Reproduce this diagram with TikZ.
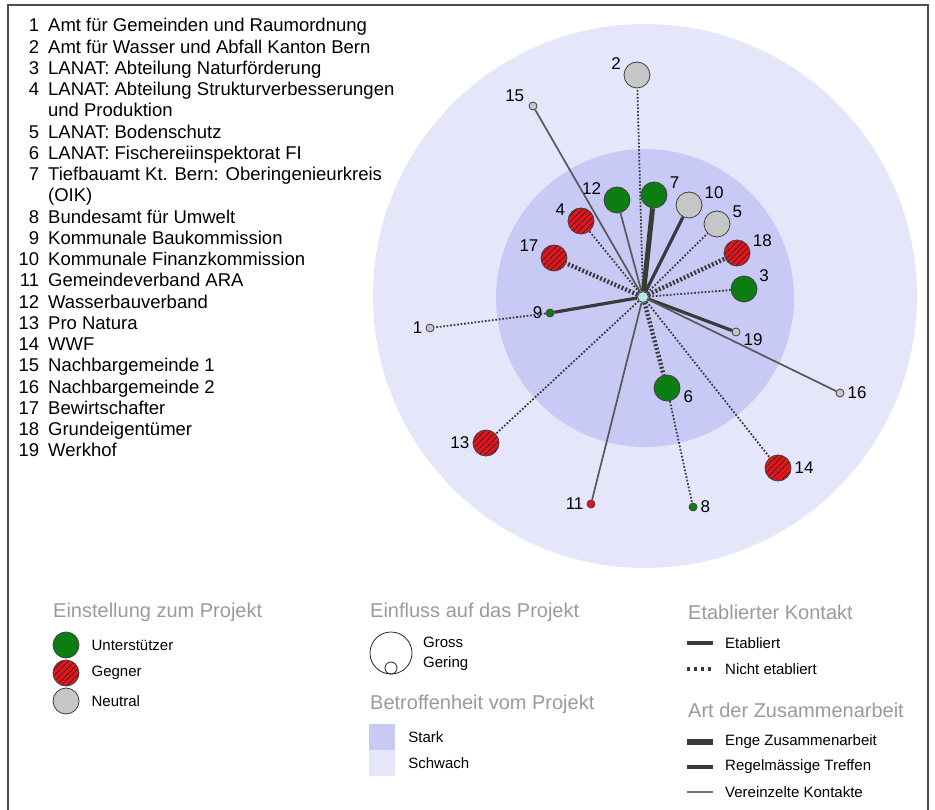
\documentclass[tikz,border=0pt]{standalone}
\usepackage{fontspec}
\setmainfont{Liberation Sans}
\usetikzlibrary{positioning, patterns.meta}

\definecolor{supgreen}{HTML}{0B7D12}
\definecolor{oppred}{HTML}{E8121A}
\definecolor{neutgrey}{HTML}{C6C6C6}
\definecolor{hubcyan}{HTML}{B4E8EC}
\definecolor{starkblue}{HTML}{C9C9F6}
\definecolor{schwachblue}{HTML}{E6E6FB}
\definecolor{headgrey}{HTML}{9A9A9A}
\definecolor{edgegrey}{HTML}{3A3A3A}

\begin{document}
\begin{tikzpicture}[
    x=1pt, y=-1pt,
    actor/.style={circle, draw=black!75, line width=0.8pt, inner sep=0pt},
    bigactor/.style={actor, minimum size=26pt},
    smallactor/.style={actor, minimum size=8pt},
    supporter/.style={fill=supgreen},
    opponent/.style={preaction={fill=oppred}, pattern={Lines[angle=45, distance=4pt, line width=1pt]}, pattern color=black!85},
    neutral/.style={fill=neutgrey},
    numlab/.style={font=\fontsize{17}{17}\selectfont, inner sep=1pt, label distance=2pt},
    headtext/.style={font=\fontsize{20}{20}\selectfont, text=headgrey, inner sep=0pt, anchor=west},
    legtext/.style={font=\fontsize{15}{15}\selectfont, inner sep=0pt, anchor=west},
    link_few/.style={draw=edgegrey!85, line width=1.7pt},
    link_reg/.style={draw=edgegrey, line width=3.2pt},
    link_tight/.style={draw=edgegrey, line width=5pt},
    link_open/.style={draw=edgegrey, line width=1.8pt, dash pattern=on 1.7pt off 1.8pt},
    link_open_tight/.style={draw=edgegrey, line width=4.4pt, dash pattern=on 1.9pt off 2pt}
]
    \useasboundingbox (0,0) rectangle (935,810);
    \draw[black!70, line width=1.4pt] (8,830) -- (8,5) -- (928,5) -- (928,830);

    % list of actors
    \node[anchor=north west, inner sep=0pt, align=left] (actorlist) at (18.4,16.7) {%
      \fontsize{18.5}{21.25}\selectfont
      \begin{tabular}{@{}r@{\hspace{9pt}}l@{}}
        1 & Amt für Gemeinden und Raumordnung\\
        2 & Amt für Wasser und Abfall Kanton Bern\\
        3 & LANAT: Abteilung Naturförderung\\
        4 & LANAT: Abteilung Strukturverbesserungen\\
          & und Produktion\\
        5 & LANAT: Bodenschutz\\
        6 & LANAT: Fischereiinspektorat FI\\
        7 & Tiefbauamt Kt. Bern: Oberingenieurkreis\\
          & (OIK)\\
        8 & Bundesamt für Umwelt\\
        9 & Kommunale Baukommission\\
        10 & Kommunale Finanzkommission\\
        11 & Gemeindeverband ARA\\
        12 & Wasserbauverband\\
        13 & Pro Natura\\
        14 & WWF\\
        15 & Nachbargemeinde 1\\
        16 & Nachbargemeinde 2\\
        17 & Bewirtschafter\\
        18 & Grundeigentümer\\
        19 & Werkhof
      \end{tabular}};

    % zones of concern
    \fill[schwachblue] (645,296) circle[radius=272pt];
    \fill[starkblue] (645,298) circle[radius=149pt];

    % actors
    \node[actor, fill=hubcyan, minimum size=11pt] (hub) at (643,297) {};
    \node[bigactor, neutral, label={[numlab]165:2}] (n2) at (637,75) {};
    \node[smallactor, neutral, label={[numlab, label distance=4pt]155:15}] (n15) at (533,106) {};
    \node[bigactor, supporter, label={[numlab]163:12}] (n12) at (617,200) {};
    \node[bigactor, supporter, label={[numlab]19:7}] (n7) at (654,195) {};
    \node[bigactor, neutral, label={[numlab]20:10}] (n10) at (689,205) {};
    \node[bigactor, neutral, label={[numlab]20:5}] (n5) at (717,224) {};
    \node[bigactor, opponent, label={[numlab]18:18}] (n18) at (737,253) {};
    \node[bigactor, supporter, label={[numlab]23:3}] (n3) at (744,289) {};
    \node[smallactor, neutral, label={[numlab]-5:19}] (n19) at (736,332) {};
    \node[smallactor, neutral, label={[numlab]right:16}] (n16) at (840,393) {};
    \node[bigactor, supporter, label={[numlab]-5:6}] (n6) at (667,388) {};
    \node[bigactor, opponent, label={[numlab]162:4}] (n4) at (581,221) {};
    \node[bigactor, opponent, label={[numlab]159:17}] (n17) at (554,258) {};
    \node[smallactor, supporter, label={[numlab]left:9}] (n9) at (550,313) {};
    \node[smallactor, neutral, label={[numlab]left:1}] (n1) at (430,328) {};
    \node[bigactor, opponent, label={[numlab]left:13}] (n13) at (486,443) {};
    \node[smallactor, fill=oppred, label={[numlab]left:11}] (n11) at (591,504) {};
    \node[smallactor, supporter, label={[numlab]right:8}] (n8) at (693,507) {};
    \node[bigactor, opponent, label={[numlab]right:14}] (n14) at (778,468) {};

    % contacts
    \draw[link_open] (hub) -- (n2);
    \draw[link_few] (hub) -- (n15);
    \draw[link_few] (hub) -- (n12);
    \draw[link_tight] (hub) -- (n7);
    \draw[link_reg] (hub) -- (n10);
    \draw[link_open] (hub) -- (n5);
    \draw[link_open_tight] (hub) -- (n18);
    \draw[link_open] (hub) -- (n3);
    \draw[link_reg] (hub) -- (n19);
    \draw[link_few] (hub) -- (n16);
    \draw[link_open_tight] (hub) -- (n6);
    \draw[link_open] (n6) -- (n8);
    \draw[link_open] (hub) -- (n14);
    \draw[link_few] (hub) -- (n11);
    \draw[link_open] (hub) -- (n13);
    \draw[link_reg] (hub) -- (n9);
    \draw[link_open] (n9) -- (n1);
    \draw[link_open_tight] (hub) -- (n17);
    \draw[link_open] (hub) -- (n4);

    % legend: attitude
    \node[headtext] (h_att) at (53,612) {Einstellung zum Projekt};
    \node[bigactor, supporter] (k_sup) at (66,645) {};
    \node[bigactor, opponent] (k_opp) at (66,673) {};
    \node[bigactor, neutral] (k_neu) at (66,701) {};
    \node[legtext] (l_sup) [right=12pt of k_sup] {Unterstützer};
    \node[legtext] (l_opp) [right=12pt of k_opp] {Gegner};
    \node[legtext] (l_neu) [right=12pt of k_neu] {Neutral};

    % legend: influence
    \node[headtext] (h_inf) at (370,612) {Einfluss auf das Projekt};
    \node[circle, draw=black!85, line width=0.8pt, minimum size=42pt, inner sep=0pt] (k_big) at (391,653) {};
    \node[circle, draw=black!85, line width=0.8pt, minimum size=12pt, inner sep=0pt, anchor=south] (k_small) at (k_big.south) {};
    \node[legtext] (l_big) at (423,642) {Gross};
    \node[legtext] (l_small) at (423,664) {Gering};

    % legend: concern
    \node[headtext] (h_con) at (370,704) {Betroffenheit vom Projekt};
    \node[fill=starkblue, minimum size=26pt, inner sep=0pt] (k_stark) at (382,737) {};
    \node[fill=schwachblue, minimum size=26pt, inner sep=0pt] (k_schwach) [below=0pt of k_stark] {};
    \node[legtext] (l_stark) [right=13pt of k_stark] {Stark};
    \node[legtext] (l_schwach) [right=13pt of k_schwach] {Schwach};

    % legend: contact
    \node[headtext] (h_est) at (688,612) {Etablierter Kontakt};
    \node[legtext] (l_est) at (725,643) {Etabliert};
    \node[legtext] (l_nest) at (725,669) {Nicht etabliert};
    \draw[link_reg] ([xshift=-38pt]l_est.west) -- ([xshift=-12pt]l_est.west);
    \draw[link_reg, dash pattern=on 3pt off 4pt] ([xshift=-38pt]l_nest.west) -- ([xshift=-12pt]l_nest.west);

    % legend: cooperation
    \node[headtext] (h_coop) at (688,710) {Art der Zusammenarbeit};
    \node[legtext] (l_tight) at (725,742) {Enge Zusammenarbeit};
    \node[legtext] (l_reg) at (725,767) {Regelmässige Treffen};
    \node[legtext] (l_few) at (725,792) {Vereinzelte Kontakte};
    \draw[link_tight, line width=5.5pt] ([xshift=-38pt]l_tight.west) -- ([xshift=-12pt]l_tight.west);
    \draw[link_reg] ([xshift=-38pt]l_reg.west) -- ([xshift=-12pt]l_reg.west);
    \draw[link_few, draw=black!55, line width=1.7pt] ([xshift=-38pt]l_few.west) -- ([xshift=-12pt]l_few.west);
\end{tikzpicture}
\end{document}
